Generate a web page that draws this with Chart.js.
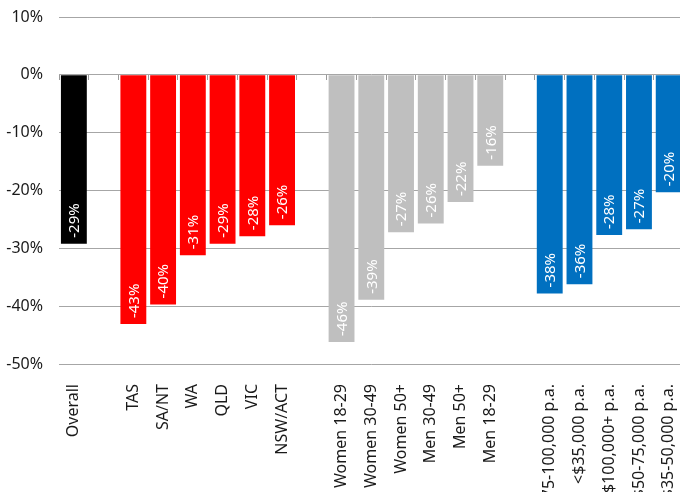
<!DOCTYPE html>
<html>
<head>
<meta charset="utf-8">
<script src="https://cdn.jsdelivr.net/npm/chart.js@4/dist/chart.umd.min.js"></script>
<style>
html,body{margin:0;padding:0;background:#fff;overflow:hidden;width:680px;height:492px;}
#wrap{position:absolute;left:0;top:0;width:700px;height:520px;}
</style>
</head>
<body>
<div id="wrap"><canvas id="c"></canvas></div>
<script>
const categories = ["Overall", "", "TAS", "SA/NT", "WA", "QLD", "VIC", "NSW/ACT", "",
  "Women 18-29", "Women 30-49", "Women 50+", "Men 30-49", "Men 50+", "Men 18-29", "",
  "$75-100,000 p.a.", "<$35,000 p.a.", "$100,000+ p.a.", "$50-75,000 p.a.", "$35-50,000 p.a."];
const values = [-29.2, null, -43.1, -39.7, -31.2, -29.2, -27.9, -26.0, null,
  -46.2, -38.9, -27.2, -25.7, -22.0, -15.7, null,
  -37.8, -36.2, -27.7, -26.7, -20.3];
const groups = ["overall", null, "state", "state", "state", "state", "state", "state", null,
  "demo", "demo", "demo", "demo", "demo", "demo", null,
  "income", "income", "income", "income", "income"];
const yTicks = [10, 0, -10, -20, -30, -40, -50];

const groupColors = {overall: "#000000", state: "#ff0000", demo: "#bfbfbf", income: "#0070c0"};
const FONT = '"Noto Sans", "Open Sans", sans-serif';

const valueLabels = {
  id: 'valueLabels',
  afterDatasetsDraw(chart) {
    const ctx = chart.ctx;
    const meta = chart.getDatasetMeta(0);
    ctx.save();
    ctx.font = '15px ' + FONT;
    ctx.fillStyle = '#ffffff';
    ctx.textAlign = 'left';
    ctx.textBaseline = 'middle';
    meta.data.forEach((bar, i) => {
      const v = values[i];
      if (v == null) return;
      const p = bar.getProps(['x', 'y'], true);
      ctx.save();
      ctx.translate(p.x, p.y - 6);
      ctx.rotate(-Math.PI / 2);
      ctx.fillText(Math.round(v) + '%', 0, 1);
      ctx.restore();
    });
    ctx.restore();
  }
};

new Chart(document.getElementById('c'), {
  type: 'bar',
  data: {
    labels: categories,
    datasets: [{
      data: values,
      backgroundColor: groups.map(g => g ? groupColors[g] : 'rgba(0,0,0,0)'),
      borderWidth: 0,
      categoryPercentage: 1.0,
      barPercentage: 0.87
    }]
  },
  options: {
    responsive: true,
    maintainAspectRatio: false,
    animation: false,
    devicePixelRatio: 1,
    layout: {padding: {top: 17, right: 4, left: 0, bottom: 0}},
    plugins: {legend: {display: false}, tooltip: {enabled: false}, title: {display: false}},
    scales: {
      x: {
        type: 'category',
        offset: true,
        grid: {display: false, offset: true},
        border: {display: false},
        ticks: {
          autoSkip: false, maxRotation: 90, minRotation: 90, padding: 12,
          color: '#1a1a1a', font: {family: FONT, size: 16}
        },
        afterFit(scale) { scale.height = 520 - 364; }
      },
      x2: {
        type: 'category',
        axis: 'x',
        position: {y: 0},
        offset: true,
        grid: {display: true, offset: true, drawOnChartArea: false, drawTicks: true, tickLength: 5, color: '#999999'},
        border: {display: false},
        ticks: {display: false}
      },
      y: {
        min: -50, max: 10,
        afterBuildTicks(scale) { scale.ticks = yTicks.map(v => ({value: v})); },
        grid: {color: '#a6a6a6', lineWidth: 1, drawTicks: false},
        border: {display: false},
        ticks: {
          padding: 16, color: '#1a1a1a', font: {family: FONT, size: 16},
          callback: v => v + '%'
        },
        afterFit(scale) { scale.width = 59; scale.paddingTop = 8; scale.paddingBottom = 8; }
      }
    }
  },
  plugins: [valueLabels]
});
</script>
</body>
</html>
